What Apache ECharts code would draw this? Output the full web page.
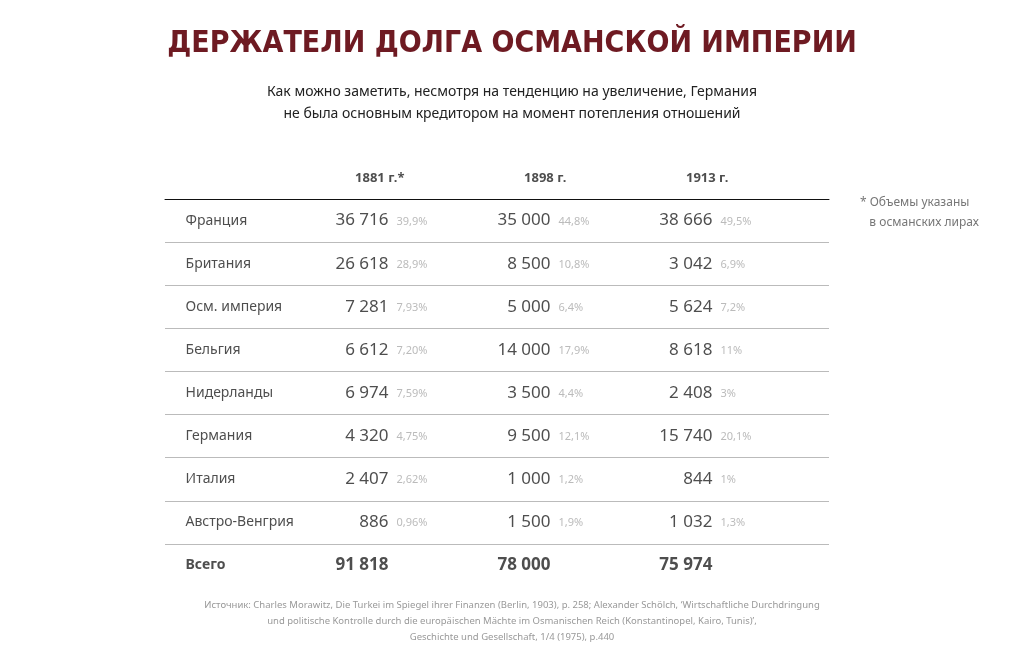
<!DOCTYPE html>
<html>
<head>
    <meta charset="UTF-8">
    <title>Держатели долга</title>
    <script src="https://cdn.jsdelivr.net/npm/echarts@6/dist/echarts.min.js"></script>
</head>
<body style="margin:0;background:#fff;">
    <div id="main" style="width:1024px; height:665px;"></div>
    <script>
        var years = ['1881 г.*', '1898 г.', '1913 г.'];
        var rows = ['Франция', 'Британия', 'Осм. империя', 'Бельгия', 'Нидерланды', 'Германия', 'Италия', 'Австро-Венгрия', 'Всего'];
        var v1881 = [36716, 26618, 7281, 6612, 6974, 4320, 2407, 886, 91818];
        var p1881 = ['39,9%', '28,9%', '7,93%', '7,20%', '7,59%', '4,75%', '2,62%', '0,96%', ''];
        var v1898 = [35000, 8500, 5000, 14000, 3500, 9500, 1000, 1500, 78000];
        var p1898 = ['44,8%', '10,8%', '6,4%', '17,9%', '4,4%', '12,1%', '1,2%', '1,9%', ''];
        var v1913 = [38666, 3042, 5624, 8618, 2408, 15740, 844, 1032, 75974];
        var p1913 = ['49,5%', '6,9%', '7,2%', '11%', '3%', '20,1%', '1%', '1,3%', ''];
        var source = [
            'Источник: Charles Morawitz, Die Turkei im Spiegel ihrer Finanzen (Berlin, 1903), p. 258; Alexander Schölch, \u2018Wirtschaftliche Durchdringung',
            'und politische Kontrolle durch die europäischen Mächte im Osmanischen Reich (Konstantinopel, Kairo, Tunis)\u2019,',
            'Geschichte und Gesellschaft, 1/4 (1975), p.440'
        ];

        var fmt = function (n) { return String(n).replace(/\B(?=(\d{3})+(?!\d))/g, ' '); };
        var vals = [v1881, v1898, v1913];
        var pcts = [p1881, p1898, p1913];
        var last = rows.length - 1;
        var txt = function (p) { return p.value[2]; };

        var series = [];
        // country names (column -1)
        series.push({
            type: 'scatter', xAxisIndex: 0, yAxisIndex: 0, symbolSize: 0,
            data: rows.map(function (r, i) {
                var d = { value: [-1, r, r] };
                if (i === last) d.label = { fontWeight: 'bold' };
                return d;
            }),
            label: {
                show: true, position: 'inside', align: 'left', offset: [-41, 0],
                formatter: txt, color: '#222', fontSize: 14, fontFamily: 'Noto Sans'
            }
        });

        vals.forEach(function (arr, k) {
            series.push({
                type: 'scatter', xAxisIndex: 0, yAxisIndex: 0, symbolSize: 0,
                data: rows.map(function (r, i) {
                    var d = { value: [k, r, fmt(arr[i])] };
                    if (i === last) d.label = { fontWeight: 'bold' };
                    return d;
                }),
                label: {
                    show: true, position: 'inside', align: 'right',
                    formatter: txt, color: '#222', fontSize: 17, fontFamily: 'Noto Sans'
                }
            });
            series.push({
                type: 'scatter', xAxisIndex: 0, yAxisIndex: 0, symbolSize: 0,
                data: rows.map(function (r, i) { return [k, r, pcts[k][i]]; }),
                label: {
                    show: true, position: 'inside', align: 'left', offset: [8, 1],
                    formatter: txt, color: '#aaa', fontSize: 11, fontFamily: 'Noto Sans'
                }
            });
        });
        // header row in second grid
        series.push({
            type: 'scatter', xAxisIndex: 1, yAxisIndex: 1, symbolSize: 0,
            data: years.map(function (y, k) { return [k, 'h', y]; }),
            label: {
                show: true, position: 'inside', align: 'right', offset: [16, 0],
                formatter: txt, color: '#222', fontSize: 13, fontWeight: 'bold', fontFamily: 'Noto Sans'
            }
        });

        var xBase = { type: 'value', min: -1.38, max: 2.72, show: false };
        var chart = echarts.init(document.getElementById('main'), null, {renderer: 'canvas'});
        chart.setOption({
            backgroundColor: '#fff',
            animation: false,
            title: {
                text: 'ДЕРЖАТЕЛИ ДОЛГА ОСМАНСКОЙ ИМПЕРИИ',
                subtext: 'Как можно заметить, несмотря на тенденцию на увеличение, Германия\nне была основным кредитором на момент потепления отношений',
                left: 'center', top: 24, itemGap: 22,
                textStyle: { fontSize: 30, fontWeight: 'bold', color: '#6e1a22', fontFamily: 'DejaVu Sans Condensed' },
                subtextStyle: { fontSize: 14, color: '#222', lineHeight: 22, align: 'center', fontFamily: 'Noto Sans' }
            },
            grid: [
                { left: 165, right: 195, top: 199, height: 388 },
                { left: 165, right: 195, top: 160, height: 36 }
            ],
            xAxis: [
                Object.assign({}, xBase, { gridIndex: 0, show: true, position: 'top',
                    axisLine: { show: true, onZero: false, lineStyle: { color: '#111', width: 1 } },
                    axisTick: { show: false }, axisLabel: { show: false }, splitLine: { show: false } }),
                Object.assign({}, xBase, { gridIndex: 1 })
            ],
            yAxis: [
                { type: 'category', gridIndex: 0, data: rows, inverse: true,
                  axisLine: { show: false }, axisTick: { show: false }, axisLabel: { show: false },
                  splitLine: { show: true, lineStyle: { color: '#bbb' } } },
                { type: 'category', gridIndex: 1, data: ['h'], show: false }
            ],
            series: series,
            graphic: [
                { type: 'rect', left: 160, top: 584, shape: { width: 680, height: 6 }, style: { fill: '#fff' }, z: 100 },
                { type: 'text', left: 860, top: 193, style: { text: '* Объемы указаны\n   в османских лирах', fill: '#777', fontSize: 12, lineHeight: 20, fontFamily: 'Noto Sans' } },
                { type: 'text', left: 'center', top: 597, style: { text: source.join('\n'), fill: '#999', fontSize: 9.5, lineHeight: 16, textAlign: 'center', fontFamily: 'Noto Sans' } }
            ]
        });
    </script>
</body>
</html>
